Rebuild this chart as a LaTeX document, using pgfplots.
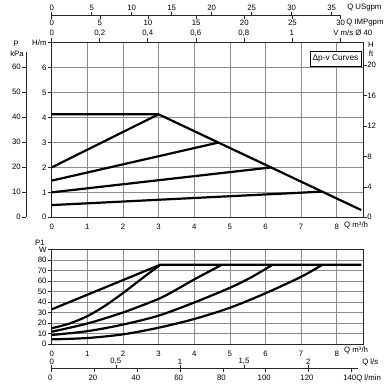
\documentclass[border=0pt]{standalone}
\usepackage{pgfplots}
\pgfplotsset{compat=1.18}
\usepackage{fontspec}
\setmainfont{Liberation Sans}
\begin{document}
\fontsize{7.8}{9}\selectfont
\begin{tikzpicture}[x=1pt,y=1pt]
\tikzset{every node/.style={font=\fontsize{7.8}{9}\selectfont}}
\path[use as bounding box] (0,0) rectangle (392,-389);
\pgfplotsset{
  common/.style={
    scale only axis, anchor=south west, clip=false,
    width=311.7pt, xmin=0, xmax=8.75,
    xtick={0,...,8}, ytick pos=left, xtick style={draw=none},
    tick align=outside, major tick length=4pt,
    grid=major, grid style={black!45, line width=0.5pt},
    axis line style={black!85, line width=0.6pt},
    tick style={black!85, line width=0.5pt},
    /pgf/number format/assume math mode=true,
    ticklabel style={font=\fontsize{7.8}{9}\selectfont},
    yticklabel style={inner sep=1pt},
  },
  curve/.style={black, line width=2.2pt, line join=round},
}
% ---------- upper: delta p-v curves ----------
\begin{axis}[common, at={(51.7pt,-217.3pt)}, height=174.6pt,
  ymin=0, ymax=7, ytick={0,...,7}, yticklabels={0,1,2,3,4,5,6,H/m}]
\addplot[curve] coordinates {(0,4.13) (3,4.13) (8.69,0.29)};
\addplot[curve] coordinates {(0,2.0) (3,4.13)};
\addplot[curve] coordinates {(0,1.47) (4.69,3.0)};
\addplot[curve] coordinates {(0,1.0) (6.16,2.0)};
\addplot[curve] coordinates {(0,0.49) (7.6,1.03)};
\end{axis}
% ---------- lower: power P1 ----------
\begin{axis}[common, at={(51.7pt,-344pt)}, height=94.5pt,
  ymin=0, ymax=90, ytick={0,10,...,90}, yticklabels={0,10,20,30,40,50,60,70,80,W}]
\addplot[curve] coordinates {(0,33) (3.05,75.5) (8.69,75.5)};
\addplot[curve, smooth] coordinates {(0,15) (0.5,19.5) (1,26.5) (1.5,36.5) (2,48.5) (2.5,61.5) (3.05,75.5)};
\addplot[curve, smooth] coordinates {(0,11.7) (1,19.5) (2,30) (3,43) (3.5,51.8) (4,61.5) (4.78,75.5)};
\addplot[curve, smooth] coordinates {(0,8.6) (1,12.2) (2,18.5) (3,27) (4,39.5) (5,53.5) (5.6,63.5) (6.2,75.5)};
\addplot[curve, smooth] coordinates {(0,4.4) (1,5.7) (2,9.2) (3,15.5) (4,23.8) (5,34.5) (6,48.3) (7,64) (7.6,75.5)};
\end{axis}
% ---------- secondary scales ----------
\begin{scope}[black!85, line width=0.5pt]
% kPa
\draw[line width=0.6pt] (26,-217.3) -- (26,-51.7);
\foreach \k in {0,10,...,60}{
  \pgfmathsetmacro\yy{-217.3+2.5*\k}
  \draw (22,\yy) -- (26,\yy);
  \node[anchor=east, inner sep=1pt, black] at (22,\yy) {\k};
}
\node[black] at (16,-44) {P};
\node[black] at (17,-54) {kPa};
% ft
\foreach \f in {0,4,...,20}{
  \pgfmathsetmacro\yy{-217.3+7.62*\f}
  \draw (363.4,\yy) -- (366.5,\yy);
  \node[anchor=west, inner sep=0.5pt, black] at (366.5,\yy) {\f};
}
\node[black] at (371,-45) {H};
\node[black] at (371,-54) {ft};
% velocity
\foreach \v/\lab in {0/0,0.2/{0,2},0.4/{0,4},0.6/{0,6},0.8/{0,8},1/1}{
  \pgfmathsetmacro\xx{51.7+240.1*\v}
  \draw (\xx,-42.7) -- (\xx,-37.5);
  \node[black] at (\xx,-33) {\lab};
}
\draw (339.8,-42.7) -- (339.8,-37.5);
\node[black, anchor=west, inner sep=0pt] at (333,-33) {V m/s Ø 40};
% US / IMP gpm
\draw[line width=0.6pt] (51.7,-15) -- (340.6,-15);
\foreach \g in {0,5,...,35}{
  \pgfmathsetmacro\xx{51.7+8.0*\g}
  \draw (\xx,-15) -- (\xx,-11.5);
  \node[black] at (\xx,-8) {\g};
}
\foreach \g in {0,5,...,30}{
  \pgfmathsetmacro\xx{51.7+9.63*\g}
  \draw (\xx,-15) -- (\xx,-18.5);
  \node[black] at (\xx,-23) {\g};
}
\node[black, anchor=west, inner sep=0pt] at (347,-8) {Q USgpm};
\node[black, anchor=west, inner sep=0pt] at (346,-23) {Q IMPgpm};
% l/s and l/min
\draw[line width=0.6pt] (51.7,-368) -- (358,-368);
\foreach \s/\lab in {0/0,0.5/{0,5},1/1,1.5/{1,5},2/2}{
  \pgfmathsetmacro\xx{51.7+128.25*\s}
  \draw (\xx,-368) -- (\xx,-364.5);
  \node[black] at (\xx,-361.5) {\lab};
}
\foreach \m in {0,20,...,140}{
  \pgfmathsetmacro\xx{51.7+2.14*\m}
  \draw (\xx,-368) -- (\xx,-371.5);
  \node[black] at (\xx-1.5,-378) {\m};
}
\node[black, anchor=west, inner sep=0pt] at (362,-362) {Q l/s};
\node[black, anchor=west, inner sep=0pt] at (356,-378) {Q l/min};
\end{scope}
% axis-unit labels
\node[anchor=west, inner sep=0pt] at (344,-225) {Q m³/h};
\node[anchor=west, inner sep=0pt] at (344,-350) {Q m³/h};
\node at (40,-242.5) {P1};
% legend box
\draw[black, line width=1pt, fill=white] (310,-51) rectangle (361,-66);
\node[font=\fontsize{8.3}{9}\selectfont] at (335.5,-58.5) {Δp-v Curves};
\end{tikzpicture}
\end{document}
